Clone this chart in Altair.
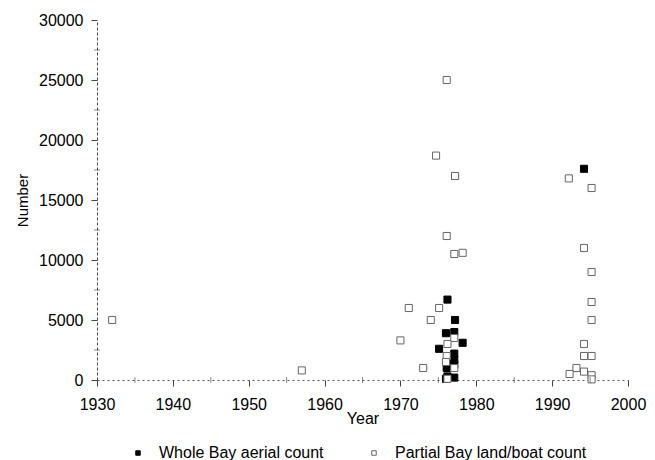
import altair as alt
import pandas as pd

# Whole Bay aerial count (filled squares)
whole_year = [1976.2, 1977.2, 1977.1, 1976.0, 1978.2, 1975.1, 1977.1, 1977.1, 1977.1, 1976.1, 1976.2, 1977.1, 1976.0, 1994.2]
whole_value = [6700, 5000, 4000, 3900, 3100, 2600, 2200, 1700, 1300, 1000, 300, 200, 100, 17600]

# Partial Bay land/boat count (open squares)
part_year = [1932.0, 1957.0, 1976.1, 1974.7, 1977.2, 1976.1, 1977.1, 1978.2, 1971.1, 1975.1,
             1974.0, 1970.0, 1977.1, 1976.2, 1976.1, 1976.0, 1973.0, 1977.1, 1976.2,
             1992.2, 1995.2, 1994.2, 1995.2, 1995.2, 1995.2, 1994.2, 1994.2, 1995.2,
             1993.2, 1992.3, 1994.2, 1995.2, 1995.2]
part_value = [5000, 800, 25000, 18700, 17000, 12000, 10500, 10600, 6000, 6000,
              5000, 3300, 3500, 3000, 2000, 1500, 1000, 1000, 100,
              16800, 16000, 11000, 9000, 6500, 5000, 3000, 2000, 2000,
              1000, 500, 700, 400, 50]

series_names = ["Whole Bay aerial count", "Partial Bay land/boat count"]

# axis tick positions
x_major = list(range(1930, 2001, 10))
y_major = list(range(0, 30001, 5000))
x_minor = list(range(1935, 2000, 10))
y_minor = list(range(2500, 30000, 5000))

df = pd.concat([
    pd.DataFrame({"Year": whole_year, "Number": whole_value, "Series": series_names[0]}),
    pd.DataFrame({"Year": part_year, "Number": part_value, "Series": series_names[1]}),
])

FONT = "Liberation Sans"

xscale = alt.Scale(domain=[1930, 2000], nice=False, zero=False)
yscale = alt.Scale(domain=[0, 30000], nice=False)

x_axis = alt.Axis(values=x_major, format="d", title="Year",
                  titleFontSize=16, titleFontWeight="normal", titlePadding=-2,
                  titleColor="#000",
                  labelFontSize=16, labelPadding=10, labelFlush=False, grid=False,
                  domainDash=[2, 3], domainColor="#555", tickColor="#444",
                  tickSize=6, labelColor="#000")
y_axis = alt.Axis(values=y_major, format="d", title="Number",
                  titleFontSize=15, titleFontWeight="normal", titlePadding=8,
                  titleColor="#000",
                  labelFontSize=16, labelPadding=8, labelFlush=False, grid=False,
                  domainDash=[3, 2], domainColor="#444", tickColor="#444",
                  tickSize=6, labelColor="#000")

points = alt.Chart(df).mark_point(shape="square", size=50, strokeWidth=1, opacity=1).encode(
    x=alt.X("Year:Q", scale=xscale, axis=x_axis),
    y=alt.Y("Number:Q", scale=yscale, axis=y_axis),
    fill=alt.Fill("Series:N", scale=alt.Scale(domain=series_names, range=["#000000", "#ffffff"]),
                  legend=alt.Legend(title=None, orient="none", direction="horizontal",
                                    legendX=33, legendY=425, labelFontSize=16, labelColor="#000",
                                    labelLimit=400, padding=0,
                                    columnPadding=42, labelOffset=13, symbolSize=20,
                                    symbolStrokeColor="#777", symbolStrokeWidth=1)),
    stroke=alt.Stroke("Series:N", scale=alt.Scale(domain=series_names, range=["#000000", "#666666"]),
                      legend=None),
    order=alt.Order("Series:N", sort="descending"),
)

y_minor_ticks = alt.Chart(pd.DataFrame({"Number": y_minor})).mark_tick(
    color="#555", thickness=1, size=6, orient="horizontal"
).encode(
    y=alt.Y("Number:Q", scale=yscale, axis=y_axis),
    x=alt.value(0),
)

x_minor_ticks = alt.Chart(pd.DataFrame({"Year": x_minor})).mark_tick(
    color="#555", thickness=1, size=6, orient="vertical"
).encode(
    x=alt.X("Year:Q", scale=xscale, axis=x_axis),
    y=alt.value(360),
)

chart = alt.layer(points, y_minor_ticks, x_minor_ticks).properties(
    width=531, height=360,
    autosize=alt.AutoSizeParams(type="none"),
    padding={"left": 97, "top": 20, "right": 27, "bottom": 80},
).configure(font=FONT).configure_view(stroke=None)

chart.save("out.html", embed_options={"renderer": "svg", "actions": False})
